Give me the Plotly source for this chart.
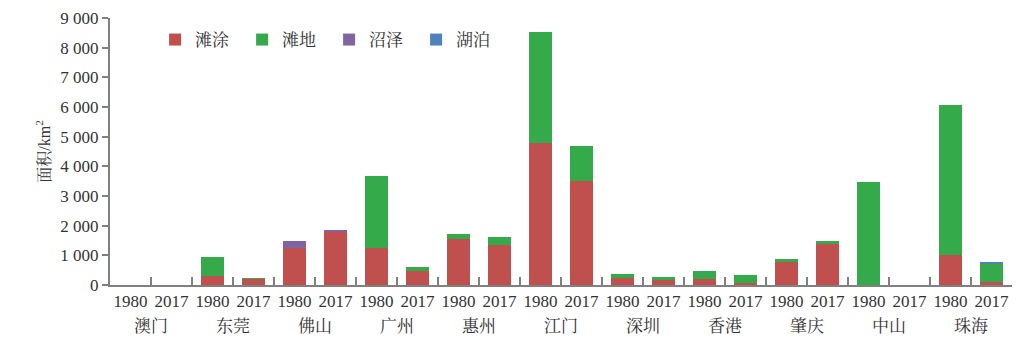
import plotly.graph_objects as go

cities = ["澳门", "东莞", "佛山", "广州", "惠州", "江门", "深圳", "香港", "肇庆", "中山", "珠海"]
years = ["1980", "2017"]

# values per (city, year) in order: city0-1980, city0-2017, city1-1980, ...
tantu = [0, 0, 290, 220, 1250, 1800, 1250, 470, 1550, 1350, 4780, 3500, 250, 180, 200, 60, 790, 1380, 0, 0, 1020, 100]
tandi = [0, 0, 660, 10, 0, 0, 2430, 130, 170, 270, 3740, 1180, 130, 80, 280, 280, 100, 100, 3470, 0, 5040, 620]
zhaoze = [0, 0, 0, 0, 250, 50, 0, 0, 0, 0, 0, 0, 0, 0, 0, 0, 0, 0, 0, 0, 0, 20]
hupo = [0, 0, 0, 0, 0, 0, 0, 0, 0, 0, 0, 0, 0, 0, 0, 0, 0, 0, 0, 0, 0, 40]

series = [("滩涂", tantu, "#C0504D"), ("滩地", tandi, "#35AA4B"),
          ("沼泽", zhaoze, "#8064A2"), ("湖泊", hupo, "#4F81BD")]

cats = [f"{c}|{y}" for c in cities for y in years]
ticktext = [y for c in cities for y in years]

FONT = "Liberation Serif, Noto Serif CJK SC, Noto Sans CJK SC, serif"

fig = go.Figure()
for name, vals, col in series:
    fig.add_trace(go.Bar(x=cats, y=vals, name=name, marker=dict(color=col, line=dict(width=0))))

annotations = []
for i, c in enumerate(cities):
    annotations.append(dict(x=2 * i + 0.5, xref="x", y=0, yref="paper", yshift=-41,
                            text=c, showarrow=False, font=dict(size=17, color="#333", family=FONT),
                            xanchor="center", yanchor="middle"))

fig.update_layout(
    width=1030, height=357,
    margin=dict(l=102, r=26, t=10, b=80),
    barmode="stack", bargap=0.42,
    plot_bgcolor="white", paper_bgcolor="white",
    separators=". ",
    font=dict(family=FONT, size=17, color="#333"),
    legend=dict(orientation="h", x=0.05, y=0.985, xanchor="left", yanchor="top",
                traceorder="normal",
                font=dict(size=17, color="#333"), itemwidth=30, tracegroupgap=0,
                bgcolor="rgba(0,0,0,0)", entrywidth=42),
    annotations=annotations,
    xaxis=dict(type="category", tickmode="array", tickvals=cats, ticktext=ticktext,
               tickson="boundaries", ticks="inside", ticklen=8, tickcolor="#808080", tickwidth=2,
               showline=True, linecolor="#808080", linewidth=2, automargin=False,
               tickfont=dict(size=17, color="#333", family=FONT), tickangle=0),
    yaxis=dict(range=[0, 9000], tickvals=list(range(0, 9001, 1000)), tickformat=",d",
               ticks="outside", ticklen=6, tickcolor="#808080", tickwidth=2, automargin=False,
               showline=True, linecolor="#808080", linewidth=2, showgrid=False, zeroline=False,
               tickfont=dict(size=17, color="#333", family=FONT),
               title=dict(text="面积/km<sup>2</sup>", font=dict(size=16, color="#333", family=FONT), standoff=6)),
)

fig.write_html("out.html")
